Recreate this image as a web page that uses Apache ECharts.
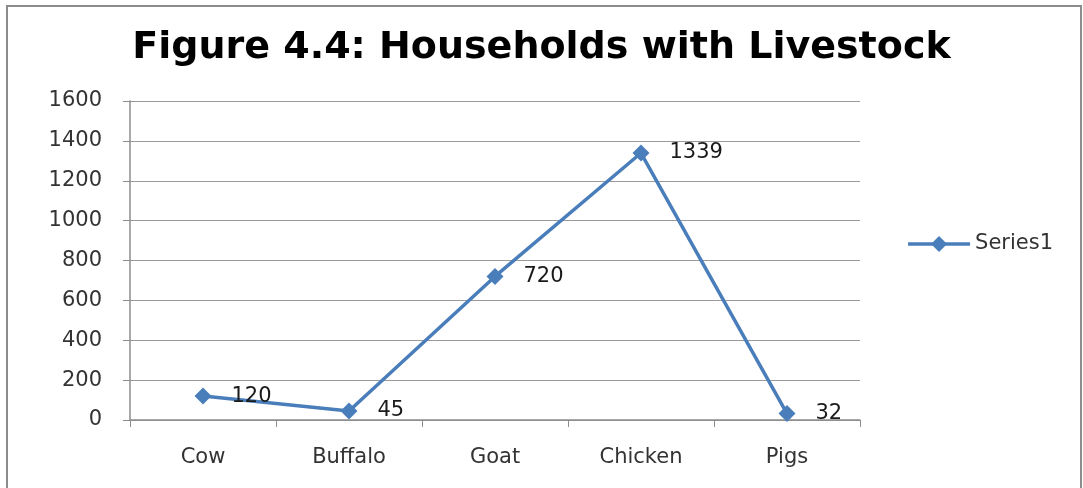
<!DOCTYPE html>
<html>
<head>
<meta charset="utf-8">
<script src="https://cdn.jsdelivr.net/npm/echarts@6/dist/echarts.min.js"></script>
<style>
  html, body { margin: 0; padding: 0; background: #ffffff; }
  #chart { width: 1083px; height: 488px; }
</style>
</head>
<body>
<div id="chart"></div>
<script>
// Livestock categories and household counts
const categories = ['Cow', 'Buffalo', 'Goat', 'Chicken', 'Pigs'];
const households = [120, 45, 720, 1339, 32];
const yTicks = { min: 0, max: 1600, step: 200 };

const chart = echarts.init(document.getElementById('chart'));
const axisFont = { fontFamily: 'DejaVu Sans', fontSize: 21, color: '#333333' };
const blue = '#4a7ebb';

chart.setOption({
  backgroundColor: '#ffffff',
  animation: false,
  title: {
    text: 'Figure 4.4: Households with Livestock',
    left: 'center',
    top: 24,
    textStyle: { fontFamily: 'DejaVu Sans', fontWeight: 'bold', fontSize: 38, color: '#000000' }
  },
  graphic: [{
    type: 'rect',
    shape: { x: 7, y: 6, width: 1074, height: 500 },
    style: { fill: 'none', stroke: '#8c8c8c', lineWidth: 2 },
    silent: true
  }],
  legend: {
    data: ['Series1'],
    right: 25,
    top: 'middle',
    orient: 'vertical',
    itemWidth: 62,
    itemHeight: 20,
    itemGap: 6,
    lineStyle: { width: 3.5 },
    textStyle: { fontFamily: 'DejaVu Sans', fontSize: 21, color: '#333333' }
  },
  grid: { left: 130, right: 223, top: 101, bottom: 68 },
  xAxis: {
    type: 'category',
    data: categories,
    boundaryGap: true,
    axisLine: { lineStyle: { color: '#8c8c8c', width: 1.5 } },
    axisTick: { show: true, alignWithLabel: false, length: 7, lineStyle: { color: '#8c8c8c' } },
    axisLabel: Object.assign({ margin: 27 }, axisFont)
  },
  yAxis: {
    type: 'value',
    min: yTicks.min,
    max: yTicks.max,
    interval: yTicks.step,
    axisLine: { show: true, lineStyle: { color: '#8c8c8c', width: 1.5 } },
    axisTick: { show: true, length: 7, lineStyle: { color: '#8c8c8c' } },
    splitLine: { lineStyle: { color: '#9a9a9a', width: 1.2 } },
    axisLabel: Object.assign({ margin: 28, formatter: (v) => String(v) }, axisFont)
  },
  series: [{
    name: 'Series1',
    type: 'line',
    data: households,
    symbol: 'diamond',
    symbolSize: 17,
    lineStyle: { color: blue, width: 3.5 },
    itemStyle: { color: blue },
    label: {
      show: true,
      position: 'right',
      distance: 20,
      fontFamily: 'DejaVu Sans',
      fontSize: 21,
      color: '#1a1a1a'
    }
  }]
});
</script>
</body>
</html>
